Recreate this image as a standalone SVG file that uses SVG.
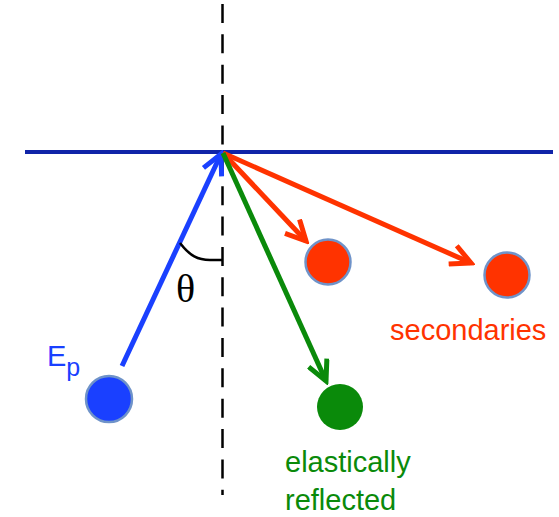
<svg xmlns="http://www.w3.org/2000/svg" width="559" height="517" viewBox="0 0 559 517">
<style>
.shaft{fill:none;stroke-width:5;stroke-linecap:butt}
.blue{stroke:#1a40ff}
.red{stroke:#ff3300}
.green{stroke:#0a8a0a}
.ball{stroke:#6f93c9;stroke-width:2.5}
.lbl{font-family:"Liberation Sans",Arial,sans-serif;font-size:29px}
</style>
<defs>
<marker id="ahB" markerUnits="userSpaceOnUse" viewBox="-24 -12 28 24" refX="0" refY="0" markerWidth="28" markerHeight="24" orient="auto"><path d="M-20,-10 L0,0 L-20,10" fill="none" stroke="#1a40ff" stroke-width="5"/></marker>
<marker id="ahR" markerUnits="userSpaceOnUse" viewBox="-24 -12 28 24" refX="0" refY="0" markerWidth="28" markerHeight="24" orient="auto"><path d="M-20,-10 L0,0 L-20,10" fill="none" stroke="#ff3300" stroke-width="5"/></marker>
<marker id="ahG" markerUnits="userSpaceOnUse" viewBox="-24 -12 28 24" refX="0" refY="0" markerWidth="28" markerHeight="24" orient="auto"><path d="M-20,-10 L0,0 L-20,10" fill="none" stroke="#0a8a0a" stroke-width="5"/></marker>
</defs>
<rect width="559" height="517" fill="#fff"/>
<g id="surface">
<line x1="25" y1="152" x2="553" y2="152" stroke="#1024a8" stroke-width="4"/>
</g>
<g id="normal">
<line x1="222.5" y1="4" x2="222.5" y2="495" stroke="#000" stroke-width="2.5" stroke-dasharray="19 11.36"/>
</g>
<g id="connectors">
<line class="shaft blue" x1="122" y1="366" x2="221" y2="154" marker-end="url(#ahB)"/>
<line class="shaft red" x1="223" y1="153" x2="306" y2="241" marker-end="url(#ahR)"/>
<line class="shaft red" x1="223" y1="153" x2="471" y2="263" marker-end="url(#ahR)"/>
<line class="shaft green" x1="223" y1="153" x2="326" y2="381" marker-end="url(#ahG)"/>
</g>
<g id="angle">
<path d="M180,243 C190,256 198,260 210,260 L222,260" fill="none" stroke="#000" stroke-width="2.5"/>
<text x="176" y="302" font-family="Liberation Serif,'Times New Roman',serif" font-size="40" fill="#000">θ</text>
</g>
<g id="primary">
<circle class="ball" cx="109" cy="399" r="23" fill="#1a40ff"/>
<text class="lbl" x="47" y="366" fill="#1a40ff">E<tspan font-size="25" dy="10">p</tspan></text>
</g>
<g id="secondary1">
<circle class="ball" cx="328" cy="262" r="22.5" fill="#ff3300"/>
</g>
<g id="secondary2">
<circle class="ball" cx="507" cy="275" r="22.5" fill="#ff3300"/>
<text class="lbl" x="390" y="340" fill="#ff3300">secondaries</text>
</g>
<g id="reflected">
<circle cx="340" cy="407" r="23" fill="#0a8a0a"/>
<text class="lbl" x="285" y="472" fill="#0a8a0a">elastically</text>
<text class="lbl" x="285" y="510" fill="#0a8a0a">reflected</text>
</g>
</svg>
